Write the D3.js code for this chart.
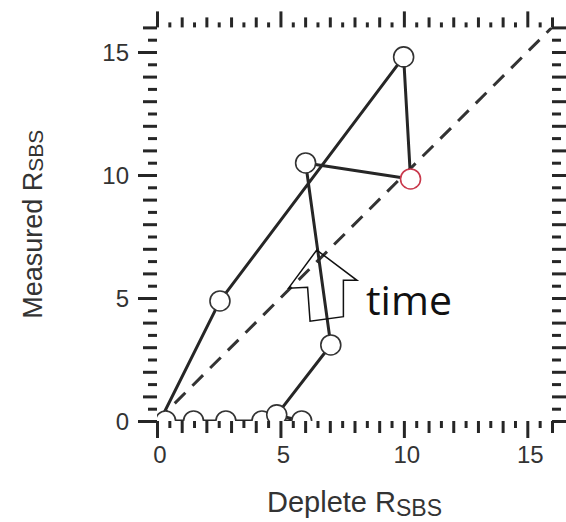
<!DOCTYPE html>
<html>
<head>
<meta charset="utf-8">
<script src="https://cdn.jsdelivr.net/npm/d3@7"></script>
<style>
  html, body { margin: 0; padding: 0; background: #fff; }
  svg { display: block; }
</style>
</head>
<body>
<svg id="chart" width="566" height="522"></svg>
<script>
// Trajectory of R_SBS: deplete (x) vs measured (y), in time order
const depleteR  = [0.35, 1.48, 2.79, 4.25, 5.86, 4.85, 7.04, 6.02, 10.27, 9.99, 2.55, 0.12];
const measuredR = [0,    0,    0,    0,    0,    0.25, 3.09, 10.49, 9.84, 14.8, 4.88, 0];
// points drawn as circles (the last entry closes the line only)
const markerIdx = [0, 1, 2, 3, 4, 5, 6, 7, 8, 9, 10];
const highlightIdx = 8;

const tickLabels = [0, 5, 10, 15];
const domainMax = 16;

// "time" arrow outline, in data units
const arrowX = [6.47, 8.10, 7.55, 7.55, 6.20, 6.10, 5.33];
const arrowY = [6.95, 5.72, 5.72, 4.24, 4.06, 5.44, 5.40];

const svg = d3.select("#chart");
const plotLeft = 157, plotRight = 552, plotTop = 27.4, plotBottom = 421;

const x = d3.scaleLinear().domain([0, domainMax]).range([plotLeft, plotRight]);
const y = d3.scaleLinear().domain([0, domainMax]).range([plotBottom, plotTop]);

const ink = "#262626";
const labelColor = "#333";
const font = "'Liberation Sans', Arial, sans-serif";

// tick values every 0.5, three lengths (multiples of 5, integers, halves)
const tickVals = d3.range(0, domainMax + 0.001, 0.5);
function tickLen(v, lens) {
  if (Math.abs(v % 5) < 1e-9) return lens[2];
  if (Math.abs(v % 1) < 1e-9) return lens[1];
  return lens[0];
}

function frameAxis(axisFn, scale, lens, transform) {
  const g = svg.append("g").attr("transform", transform);
  const ax = axisFn(scale).tickValues(tickVals).tickFormat("").tickSizeOuter(0);
  g.call(ax);
  g.select(".domain").remove();
  g.selectAll(".tick line")
    .attr("stroke", ink)
    .attr("stroke-width", 3)
    .each(function(d) {
      const L = tickLen(d, lens);
      const sel = d3.select(this);
      const x2 = sel.attr("x2"), y2 = sel.attr("y2");
      if (x2 !== null && +x2 !== 0) sel.attr("x2", Math.sign(+x2) * L);
      if (y2 !== null && +y2 !== 0) sel.attr("y2", Math.sign(+y2) * L);
    });
  return g;
}

frameAxis(d3.axisBottom, x, [7, 12, 17], `translate(0,${plotBottom})`);
frameAxis(d3.axisTop,    x, [5, 10, 16], `translate(0,${plotTop})`);
frameAxis(d3.axisLeft,   y, [9, 14, 19], `translate(${plotLeft},0)`);
frameAxis(d3.axisRight,  y, [9, 14, 17], `translate(${plotRight},0)`);

// tick labels
svg.append("g").selectAll("text").data(tickLabels).join("text")
  .attr("x", d => x(d) + 3)
  .attr("y", 463)
  .attr("text-anchor", "middle")
  .attr("font-family", font)
  .attr("font-size", 24)
  .attr("fill", labelColor)
  .text(d => d);

svg.append("g").selectAll("text").data(tickLabels).join("text")
  .attr("x", 129)
  .attr("y", d => y(d) + 9)
  .attr("text-anchor", "end")
  .attr("font-family", font)
  .attr("font-size", 24)
  .attr("fill", labelColor)
  .text(d => d);

// axis titles with subscripts
const xt = svg.append("text")
  .attr("x", (plotLeft + plotRight) / 2)
  .attr("y", 512)
  .attr("text-anchor", "middle")
  .attr("font-family", font)
  .attr("font-size", 29)
  .attr("fill", labelColor);
xt.append("tspan").text("Deplete R");
xt.append("tspan").attr("font-size", 23).attr("dy", 4).text("SBS");

const yt = svg.append("text")
  .attr("transform", `translate(42,${(plotTop + plotBottom) / 2}) rotate(-90)`)
  .attr("text-anchor", "middle")
  .attr("font-family", font)
  .attr("font-size", 27)
  .attr("fill", labelColor);
yt.append("tspan").text("Measured R");
yt.append("tspan").attr("font-size", 21).attr("dy", 1).text("SBS");

// plot area clip
svg.append("clipPath").attr("id", "plotClip")
  .append("rect")
  .attr("x", plotLeft).attr("y", plotTop)
  .attr("width", plotRight - plotLeft).attr("height", plotBottom - plotTop);

const plot = svg.append("g").attr("clip-path", "url(#plotClip)");

// 1:1 reference line
plot.append("line")
  .attr("x1", x(0)).attr("y1", y(0))
  .attr("x2", x(domainMax)).attr("y2", y(domainMax))
  .attr("stroke", "#333")
  .attr("stroke-width", 3)
  .attr("stroke-dasharray", "15,10");

// trajectory line
const pts = depleteR.map((d, i) => [d, measuredR[i]]);
plot.append("path")
  .datum(pts)
  .attr("d", d3.line().x(d => x(d[0])).y(d => y(d[1])))
  .attr("fill", "none")
  .attr("stroke", ink)
  .attr("stroke-width", 3)
  .attr("stroke-linejoin", "round");

// "time" arrow outline
const arrowPts = arrowX.map((d, i) => [x(d), y(arrowY[i])]);
svg.append("path")
  .attr("d", d3.line()(arrowPts) + "Z")
  .attr("fill", "none")
  .attr("stroke", "#111")
  .attr("stroke-width", 1.5)
  .attr("stroke-linejoin", "miter");

svg.append("text")
  .attr("x", 366)
  .attr("y", 315)
  .attr("font-family", "'Open Sans', sans-serif")
  .attr("font-size", 41)
  .attr("fill", "#111")
  .text("time");

// sample markers
plot.append("g").selectAll("circle").data(markerIdx).join("circle")
  .attr("cx", i => x(depleteR[i]))
  .attr("cy", i => y(measuredR[i]))
  .attr("r", 10)
  .attr("fill", "#fff")
  .attr("stroke", i => i === highlightIdx ? "#c9394c" : "#333")
  .attr("stroke-width", 1.6);
</script>
</body>
</html>
